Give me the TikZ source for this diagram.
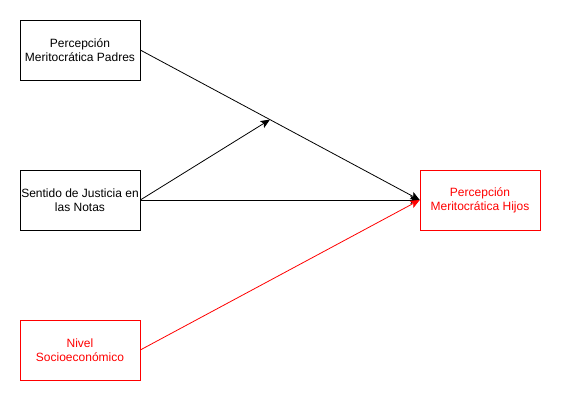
\documentclass[tikz,border=0pt]{standalone}
\usepackage{fontspec}
\setmainfont{Liberation Sans}
\usetikzlibrary{arrows.meta}

\tikzset{
  caja/.style={draw, minimum width=90pt, minimum height=45pt, align=center, font=\fontsize{9}{10.5}\selectfont, inner sep=1pt},
  flecha/.style={-{Stealth[length=7pt,width=6pt,inset=1.5pt]}, line width=0.6pt}
}

\begin{document}
\begin{tikzpicture}[x=0.75pt,y=-0.75pt]
\useasboundingbox (0,0) rectangle (561,401);

% Boxes
\node[caja] (padres) at (80,50) {Percepción\\Meritocrática Padres};
\node[caja] (justicia) at (80,200) {Sentido de Justicia en\\las Notas};
\node[caja, red, text=red] (nivel) at (80,350) {Nivel\\Socioeconómico};
\node[caja, red, text=red] (hijos) at (480,200) {Percepción\\Meritocrática Hijos};

% Arrows
\draw[flecha] (padres.east) -- (hijos.west) coordinate[pos=0.464] (medio);
\draw[flecha] (justicia.east) -- (medio);
\draw[flecha] (justicia.east) -- (hijos.west);
\draw[flecha, red] (nivel.east) -- (hijos.west);
\end{tikzpicture}
\end{document}
